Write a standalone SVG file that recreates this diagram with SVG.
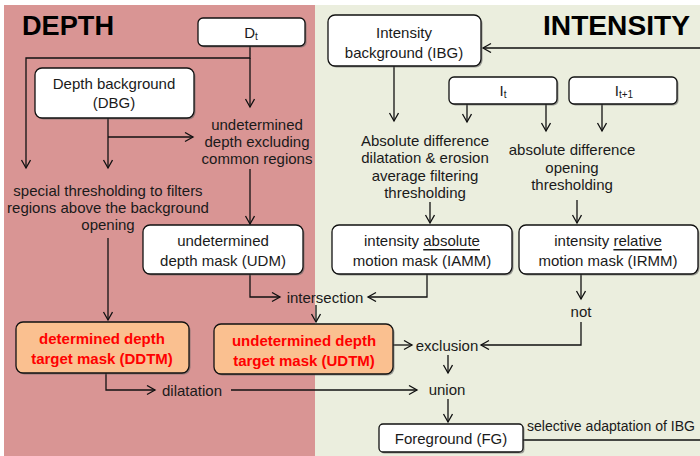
<svg xmlns="http://www.w3.org/2000/svg" width="700" height="456" viewBox="0 0 700 456">
<style>
text{font-family:"Liberation Sans",Arial,sans-serif;font-size:15px;fill:#1a1a1a;text-anchor:middle;dominant-baseline:central}
.title{font-size:27px;font-weight:bold;fill:#000;text-anchor:start;dominant-baseline:alphabetic}
.box{fill:#fff;stroke:#111;stroke-width:1.3}
.shadow{fill:#666;opacity:0.6}
.obox{fill:#FAC090;stroke:#111;stroke-width:1.3}
.red{fill:#FF0000;font-weight:bold}
.con{fill:none;stroke:#111;stroke-width:1.3}
.sub{font-size:10px}
.ul{text-decoration:underline}
</style>
<defs>
<marker id="arr" markerUnits="userSpaceOnUse" markerWidth="12" markerHeight="12" refX="9" refY="5" orient="auto">
<path d="M1,0.5 L9,5 L1,9.5" fill="none" stroke="#111" stroke-width="1.3"/>
</marker>
</defs>
<rect x="0" y="0" width="700" height="456" fill="#fff"/>
<rect x="4" y="5" width="311" height="451" fill="#D99594"/>
<rect x="315" y="5" width="385" height="451" fill="#EBEEDE"/>
<text class="title" x="22" y="35" textLength="92" lengthAdjust="spacingAndGlyphs">DEPTH</text>
<text class="title" x="543" y="35" textLength="147" lengthAdjust="spacingAndGlyphs">INTENSITY</text>

<g id="connectors">
<path class="con" d="M250,46 V58 H26 V168" marker-end="url(#arr)"/>
<path class="con" d="M250,58 V107" marker-end="url(#arr)"/>
<path class="con" d="M108,118 V168" marker-end="url(#arr)"/>
<path class="con" d="M108,137 H193" marker-end="url(#arr)"/>
<path class="con" d="M250,169 V224" marker-end="url(#arr)"/>
<path class="con" d="M108,238 V320" marker-end="url(#arr)"/>
<path class="con" d="M250,274 V297 H280" marker-end="url(#arr)"/>
<path class="con" d="M427,274 V297 H368" marker-end="url(#arr)"/>
<path class="con" d="M316,305 V322" marker-end="url(#arr)"/>
<path class="con" d="M393,345 H412" marker-end="url(#arr)"/>
<path class="con" d="M581,274 V299" marker-end="url(#arr)"/>
<path class="con" d="M581,322 V345 H481" marker-end="url(#arr)"/>
<path class="con" d="M448,355 V373" marker-end="url(#arr)"/>
<path class="con" d="M106,373 V390 H155" marker-end="url(#arr)"/>
<path class="con" d="M231,390 H417" marker-end="url(#arr)"/>
<path class="con" d="M448,399 V422" marker-end="url(#arr)"/>
<path class="con" d="M523,440 H702 V48 H483" marker-end="url(#arr)"/>
<path class="con" d="M394,66 V121" marker-end="url(#arr)"/>
<path class="con" d="M467,104 V122" marker-end="url(#arr)"/>
<path class="con" d="M546,104 V131" marker-end="url(#arr)"/>
<path class="con" d="M602,104 V131" marker-end="url(#arr)"/>
<path class="con" d="M430,202 V223" marker-end="url(#arr)"/>
<path class="con" d="M577,200 V223" marker-end="url(#arr)"/>
</g>

<g id="labels">
<text x="257" y="124">undetermined</text>
<text x="257" y="141">depth excluding</text>
<text x="257" y="158">common regions</text>
<text x="108" y="190">special thresholding to filters</text>
<text x="108" y="207">regions above the background</text>
<text x="108" y="224">opening</text>
<text x="325" y="297">intersection</text>
<text x="447" y="345">exclusion</text>
<text x="581" y="311">not</text>
<text x="447" y="389">union</text>
<text x="192" y="390">dilatation</text>
<text x="527" y="426" style="text-anchor:start;font-size:14px" textLength="168" lengthAdjust="spacingAndGlyphs">selective adaptation of IBG</text>
<text x="425" y="140">Absolute difference</text>
<text x="425" y="157">dilatation &amp; erosion</text>
<text x="425" y="175">average filtering</text>
<text x="425" y="192">thresholding</text>
<text x="572" y="149">absolute difference</text>
<text x="572" y="167">opening</text>
<text x="572" y="184">thresholding</text>
</g>

<g id="Dt">
<rect class="shadow" x="199.5" y="19.5" width="107" height="28" rx="5"/>
<rect class="box" x="198" y="18" width="107" height="28" rx="5"/>
<text x="251" y="32">D<tspan class="sub" dy="4">t</tspan></text>
</g>
<g id="DBG">
<rect class="shadow" x="36.5" y="69.5" width="159" height="50" rx="7"/>
<rect class="box" x="35" y="68" width="159" height="50" rx="7"/>
<text x="114" y="83">Depth background</text>
<text x="114" y="102">(DBG)</text>
</g>
<g id="UDM">
<rect class="shadow" x="144.5" y="226.5" width="160" height="49" rx="7"/>
<rect class="box" x="143" y="225" width="160" height="49" rx="7"/>
<text x="223" y="240">undetermined</text>
<text x="223" y="260">depth mask (UDM)</text>
</g>
<g id="DDTM">
<rect class="shadow" x="17.5" y="323.5" width="173" height="51" rx="7"/>
<rect class="obox" x="16" y="322" width="173" height="51" rx="7"/>
<text class="red" x="102" y="338">determined depth</text>
<text class="red" x="102" y="358">target mask (DDTM)</text>
</g>
<g id="UDTM">
<rect class="shadow" x="215.5" y="325.5" width="179" height="50" rx="7"/>
<rect class="obox" x="214" y="324" width="179" height="50" rx="7"/>
<text class="red" x="304" y="340">undetermined depth</text>
<text class="red" x="304" y="360">target mask (UDTM)</text>
</g>
<g id="IBG">
<rect class="shadow" x="329.5" y="16.5" width="153" height="51" rx="7"/>
<rect class="box" x="328" y="15" width="153" height="51" rx="7"/>
<text x="404" y="32">Intensity</text>
<text x="404" y="52">background (IBG)</text>
</g>
<g id="It">
<rect class="shadow" x="450.5" y="78.5" width="108" height="27" rx="5"/>
<rect class="box" x="449" y="77" width="108" height="27" rx="5"/>
<text x="503" y="90">I<tspan class="sub" dy="4">t</tspan></text>
</g>
<g id="It1">
<rect class="shadow" x="570.5" y="78.5" width="108" height="27" rx="5"/>
<rect class="box" x="569" y="77" width="108" height="27" rx="5"/>
<text x="624" y="90">I<tspan class="sub" dy="4">t+1</tspan></text>
</g>
<g id="IAMM">
<rect class="shadow" x="333.5" y="226.5" width="180" height="49" rx="7"/>
<rect class="box" x="332" y="225" width="180" height="49" rx="7"/>
<text x="422" y="240">intensity <tspan class="ul">absolute</tspan></text>
<text x="422" y="260">motion mask (IAMM)</text>
</g>
<g id="IRMM">
<rect class="shadow" x="520.5" y="226.5" width="179" height="49" rx="7"/>
<rect class="box" x="519" y="225" width="179" height="49" rx="7"/>
<text x="608" y="240">intensity <tspan class="ul">relative</tspan></text>
<text x="608" y="260">motion mask (IRMM)</text>
</g>
<g id="FG">
<rect class="shadow" x="380.5" y="425.5" width="144" height="28" rx="4"/>
<rect class="box" x="379" y="424" width="144" height="28" rx="4"/>
<text x="451" y="438">Foreground (FG)</text>
</g>
</svg>
